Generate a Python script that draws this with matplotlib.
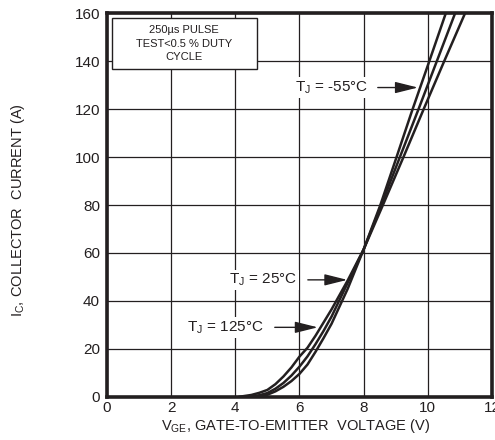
import matplotlib.pyplot as plt
from matplotlib.patches import Rectangle

plt.rcParams['font.family'] = ['Liberation Sans', 'DejaVu Sans']
plt.rcParams['mathtext.default'] = 'regular'

# transfer curves
vge_m55 = [4.6, 5.0, 5.25, 5.5, 5.75, 6.0, 6.25, 6.5, 6.75, 7.0, 7.5, 8.0, 8.52, 9.0, 9.5, 10.02, 10.56]
ic_m55 = [0, 0.9, 2.3, 4.2, 6.6, 9.6, 13.5, 18.8, 24.5, 30.5, 45, 61.5, 80, 99, 119, 139, 160]

vge_25 = [4.4, 4.75, 5.0, 5.25, 5.5, 5.75, 6.0, 6.25, 6.5, 6.75, 7.0, 7.5, 8.0, 8.55, 9.1, 9.71, 10.28, 10.85]
ic_25 = [0, 0.7, 1.6, 3.4, 5.8, 8.9, 12.6, 16.9, 22, 27.5, 33.5, 47.5, 61.5, 80, 99, 120, 140, 160]

vge_125 = [4.1, 4.5, 4.75, 5.0, 5.25, 5.5, 5.75, 6.0, 6.25, 6.5, 6.75, 7.0, 7.5, 8.0, 8.6, 9.24, 9.87, 10.51, 11.16]
ic_125 = [0, 0.8, 1.7, 2.9, 5.3, 8.5, 12.3, 16.8, 20.5, 25.5, 31, 36.5, 48.5, 61.5, 80, 100, 120, 140, 160]

x_ticks = [0, 2, 4, 6, 8, 10, 12]
y_ticks = [0, 20, 40, 60, 80, 100, 120, 140, 160]

ink = '#231f20'

fig = plt.figure(figsize=(4.95, 4.4), dpi=100)
ax = fig.add_axes([0.216, 0.098, 0.778, 0.872])

for vx, iy in [(vge_m55, ic_m55), (vge_25, ic_25), (vge_125, ic_125)]:
    ax.plot(vx, iy, color=ink, lw=1.8, solid_capstyle='butt', zorder=3)

ax.set_xlim(0, 12)
ax.set_ylim(0, 160)
ax.set_xticks(x_ticks)
ax.set_yticks(y_ticks)
ax.tick_params(length=0, labelsize=11, colors=ink)
ax.tick_params(axis='y', pad=5)
ax.tick_params(axis='x', pad=3)
ax.grid(True, color=ink, lw=0.9)
ax.set_axisbelow(True)
for s in ax.spines.values():
    s.set_linewidth(2.6)
    s.set_color(ink)
    s.set_zorder(5)

ax.set_xlabel('V$_{GE}$, GATE-TO-EMITTER  VOLTAGE (V)', fontsize=10.5, color=ink)
ax.xaxis.set_label_coords(0.49, -0.052)
ax.set_ylabel('I$_{C}$, COLLECTOR  CURRENT (A)', fontsize=10.5, color=ink, va='center')
ax.yaxis.set_label_coords(-0.232, 0.487)

# test condition box
ax.add_patch(Rectangle((0.013, 0.855), 0.378, 0.133, transform=ax.transAxes,
                       facecolor='white', edgecolor=ink, lw=1.0, zorder=4))
ax.text(0.2, 0.921, '250\u00b5s PULSE\nTEST<0.5 % DUTY\nCYCLE', transform=ax.transAxes,
        ha='center', va='center', fontsize=8, color=ink, linespacing=1.45, zorder=6)

arrow = dict(arrowstyle='-|>,head_length=1.0,head_width=0.25', color=ink, lw=1.0,
             shrinkA=0, shrinkB=0, mutation_scale=14)
box = dict(facecolor='white', edgecolor='none', pad=1.5)

ax.text(5.86, 129, 'T$_{J}$ = -55\u00b0C', fontsize=11, color=ink, va='center', bbox=box, zorder=6)
ax.annotate('', xy=(9.69, 129), xytext=(8.44, 129), arrowprops=arrow, zorder=6)

ax.text(3.8, 48.8, 'T$_{J}$ = 25\u00b0C', fontsize=11, color=ink, va='center', bbox=box, zorder=6)
ax.annotate('', xy=(7.49, 48.8), xytext=(6.26, 48.8), arrowprops=arrow, zorder=6)

ax.text(2.5, 29, 'T$_{J}$ = 125\u00b0C', fontsize=11, color=ink, va='center', bbox=box, zorder=6)
ax.annotate('', xy=(6.57, 29), xytext=(5.23, 29), arrowprops=arrow, zorder=6)

fig.savefig('out.png', dpi=100)
